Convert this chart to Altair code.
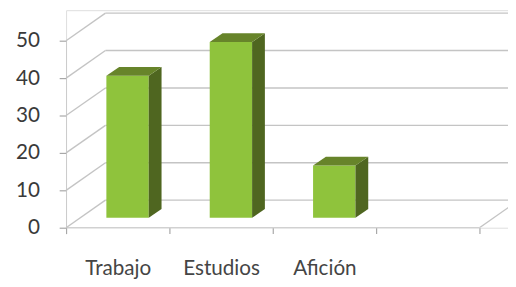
import json
import altair as alt
import pandas as pd

# ---- data ----
categories = ["Trabajo", "Estudios", "Afición"]
values = [38, 47, 14]
y_ticks = [0, 10, 20, 30, 40, 50]
n_slots = 4

# ---- geometry (pixel -> data units) ----
PX_CAT = 105.0
PX_UNIT = 3.8
W, H = 449, 221
XMAX = W / PX_CAT
YMAX = H / PX_UNIT
DXB, DZB = 40 / PX_CAT, 28 / PX_UNIT      # back wall offset
SZ = 10 / PX_UNIT                          # bar plane lift
DX, DZ = 13 / PX_CAT, 9 / PX_UNIT          # bar depth
BAR_L, BAR_W = 0.39, 0.41

xs = alt.Scale(domain=[0, XMAX], nice=False, zero=False)
ys = alt.Scale(domain=[0, YMAX], nice=False, zero=False)

GRID = "#c4c4c4"

xaxis = alt.Axis(values=list(range(n_slots + 1)), domain=False, grid=False,
                 tickSize=6, tickColor="#a8a8a8", tickWidth=1.2,
                 labelExpr=f"{json.dumps(categories, ensure_ascii=False)}[datum.value] || ''",
                 labelOffset=PX_CAT / 2, labelPadding=25, labelFont="Lato",
                 labelFlush=False, labelOverlap=False, labelAlign="center",
                 labelFontSize=21, labelColor="#454545", title=None)
yaxis = alt.Axis(values=y_ticks, domain=False, grid=False, tickSize=7,
                 tickColor="#a8a8a8", tickWidth=1.2, labelPadding=20,
                 labelFlush=False, labelOverlap=False,
                 labelFont="Lato", labelFontSize=21, labelColor="#3a3a3a",
                 title=None)

def X(f):
    return alt.X(f, type="quantitative", scale=xs, axis=xaxis)

def Y(f):
    return alt.Y(f, type="quantitative", scale=ys, axis=yaxis)

grid = pd.DataFrame({"v": y_ticks})
grid["x0"] = 0.0
grid["xb"] = DXB
grid["xe"] = n_slots + DXB + 1
grid["vb"] = grid["v"] + DZB

back = alt.Chart(grid).mark_rule(color=GRID, strokeWidth=1.4, clip=True).encode(
    x=X("xb"), x2="xe", y=Y("vb"))
side = alt.Chart(grid).mark_rule(color=GRID, strokeWidth=1.4).encode(
    x=X("x0"), x2="xb", y=Y("v"), y2="vb")

frame = pd.DataFrame({"x": [0.0, 0.0, float(n_slots)],
                      "x2": [0.0, float(n_slots), n_slots + DXB],
                      "y": [0.0, 0.0, 0.0],
                      "y2": [float(max(y_ticks)), 0.0, DZB]})
edges = alt.Chart(frame).mark_rule(color=GRID, strokeWidth=1.4, clip=True).encode(
    x=X("x"), x2="x2", y=Y("y"), y2="y2")

bars = pd.DataFrame({"cat": categories, "v": values})
bars["i"] = range(len(categories))
bars["l"] = bars["i"] + BAR_L
bars["r"] = bars["l"] + BAR_W
bars["b"] = SZ
bars["t"] = bars["v"] + SZ

front = alt.Chart(bars).mark_bar(color="#8fc33c").encode(
    x=X("l"), x2="r", y=Y("b"), y2="t")

side_rows, top_rows = [], []
for _, r in bars.iterrows():
    for k in (0, 1):
        side_rows.append({"cat": r["cat"], "x": r["r"] + k * DX,
                          "y": r["t"] + k * DZ, "y2": r["b"] + k * DZ})
        top_rows.append({"cat": r["cat"], "y": r["t"] + k * DZ,
                         "x": r["l"] + k * DX, "x2": r["r"] + k * DX})
side_df = pd.DataFrame(side_rows)
top_df = pd.DataFrame(top_rows)

sface = alt.Chart(side_df).mark_area(color="#4f6620", orient="vertical").encode(
    x=X("x"), y=Y("y"), y2="y2", detail="cat:N")
tface = alt.Chart(top_df).mark_area(color="#67842a", orient="horizontal").encode(
    y=Y("y"), x=X("x"), x2="x2", detail="cat:N")

chart = alt.layer(back, side, edges, front, sface, tface).properties(
    width=W, height=H,
    autosize=alt.AutoSizeParams(type="none"),
    padding={"left": 59, "top": 0, "right": 0, "bottom": 58},
).configure_view(stroke=None).configure(background="white")

chart.save("out.html", embed_options={"renderer": "svg", "actions": False})
